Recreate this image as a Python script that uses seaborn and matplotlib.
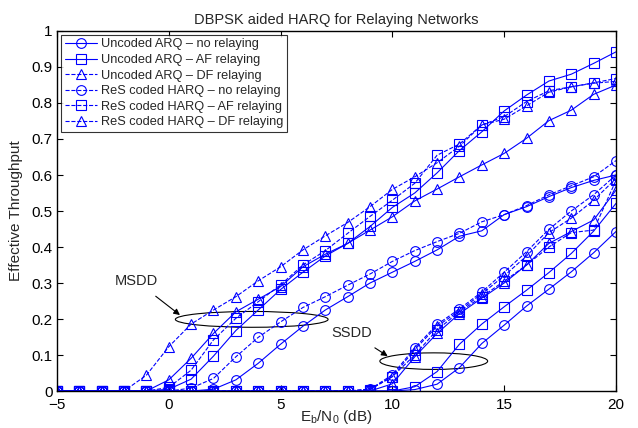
import numpy as np
import pandas as pd
import matplotlib
matplotlib.use("Agg")
import matplotlib.pyplot as plt
from matplotlib.lines import Line2D
from matplotlib.patches import Ellipse
import seaborn as sns

# ---------------- data ----------------
ebn0 = list(range(-5, 21))

# MSDD curves
msdd_unc_norelay = [0, 0, 0, 0, 0, 0, 0, 0.005, 0.031, 0.077, 0.13, 0.18, 0.225, 0.262, 0.30, 0.33,
                    0.36, 0.392, 0.43, 0.445, 0.49, 0.512, 0.54, 0.565, 0.585, 0.60]
msdd_unc_af = [0, 0, 0, 0, 0, 0.005, 0.033, 0.097, 0.168, 0.225, 0.282, 0.33, 0.375, 0.41, 0.457, 0.51,
               0.55, 0.606, 0.668, 0.72, 0.778, 0.822, 0.861, 0.88, 0.91, 0.942]
msdd_unc_df = [0, 0, 0, 0, 0, 0.031, 0.091, 0.16, 0.22, 0.255, 0.29, 0.345, 0.38, 0.41, 0.447, 0.484,
               0.528, 0.561, 0.595, 0.628, 0.66, 0.702, 0.751, 0.78, 0.824, 0.85]
msdd_res_norelay = [0, 0, 0, 0, 0, 0, 0.008, 0.035, 0.095, 0.149, 0.192, 0.232, 0.262, 0.294, 0.325, 0.36,
                    0.39, 0.415, 0.438, 0.47, 0.49, 0.515, 0.545, 0.57, 0.595, 0.64]
msdd_res_af = [0, 0, 0, 0, 0, 0.01, 0.058, 0.142, 0.202, 0.248, 0.295, 0.35, 0.39, 0.438, 0.485, 0.53,
               0.577, 0.655, 0.686, 0.739, 0.762, 0.804, 0.834, 0.845, 0.856, 0.868]
msdd_res_df = [0, 0, 0, 0, 0.044, 0.123, 0.186, 0.225, 0.262, 0.306, 0.345, 0.392, 0.431, 0.468, 0.512, 0.56,
               0.595, 0.634, 0.68, 0.739, 0.755, 0.792, 0.83, 0.845, 0.855, 0.86]

# SSDD curves
ssdd_unc_norelay = [0, 0, 0, 0, 0, 0, 0, 0, 0, 0, 0, 0, 0, 0, 0, 0,
                    0.004, 0.019, 0.065, 0.132, 0.183, 0.236, 0.283, 0.331, 0.384, 0.443]
ssdd_unc_af = [0, 0, 0, 0, 0, 0, 0, 0, 0, 0, 0, 0, 0, 0, 0, 0,
               0.012, 0.054, 0.13, 0.186, 0.234, 0.28, 0.329, 0.382, 0.444, 0.521]
ssdd_unc_df = [0, 0, 0, 0, 0, 0, 0, 0, 0, 0, 0, 0, 0, 0, 0, 0.02,
               0.095, 0.16, 0.215, 0.258, 0.30, 0.35, 0.41, 0.443, 0.475, 0.558]
ssdd_res_norelay = [0, 0, 0, 0, 0, 0, 0, 0, 0, 0, 0, 0, 0, 0, 0.005, 0.045,
                    0.12, 0.185, 0.228, 0.275, 0.33, 0.387, 0.449, 0.50, 0.545, 0.60]
ssdd_res_af = [0, 0, 0, 0, 0, 0, 0, 0, 0, 0, 0, 0, 0, 0, 0.004, 0.04,
               0.10, 0.17, 0.22, 0.262, 0.305, 0.35, 0.40, 0.44, 0.447, 0.585]
ssdd_res_df = [0, 0, 0, 0, 0, 0, 0, 0, 0, 0, 0, 0, 0, 0, 0.005, 0.04,
               0.115, 0.18, 0.223, 0.27, 0.32, 0.375, 0.44, 0.48, 0.53, 0.59]

legend_labels = ["Uncoded ARQ \u2013 no relaying", "Uncoded ARQ \u2013 AF relaying",
                 "Uncoded ARQ \u2013 DF relaying", "ReS coded HARQ \u2013 no relaying",
                 "ReS coded HARQ \u2013 AF relaying", "ReS coded HARQ \u2013 DF relaying"]
xticks = [-5, 0, 5, 10, 15, 20]
yticks = [0, 0.1, 0.2, 0.3, 0.4, 0.5, 0.6, 0.7, 0.8, 0.9, 1]
ytick_labels = ["0", "0.1", "0.2", "0.3", "0.4", "0.5", "0.6", "0.7", "0.8", "0.9", "1"]

# ---------------- style ----------------
sns.set_style("ticks")
plt.rcParams["font.family"] = ["Liberation Sans", "DejaVu Sans"]
plt.rcParams["mathtext.fontset"] = "custom"
plt.rcParams["mathtext.rm"] = "Liberation Sans"
plt.rcParams["mathtext.it"] = "Liberation Sans"

BLUE = (0, 0, 1)
markers = ["o", "s", "^", "o", "s", "^"]
styles = ["-", "-", "-", "--", "--", "--"]
legend_styles = ["-", "-", "--", "--", "--", "--"]

fig = plt.figure(figsize=(6.38, 4.28), dpi=100)
ax = fig.add_axes([0.0893, 0.0864, 0.8762, 0.8412])

groups = [
    [msdd_unc_norelay, msdd_unc_af, msdd_unc_df, msdd_res_norelay, msdd_res_af, msdd_res_df],
    [ssdd_unc_norelay, ssdd_unc_af, ssdd_unc_df, ssdd_res_norelay, ssdd_res_af, ssdd_res_df],
]
for grp in groups:
    for i, ys in enumerate(grp):
        df = pd.DataFrame({"x": ebn0, "y": ys})
        sns.lineplot(data=df, x="x", y="y", ax=ax, color=BLUE, linestyle=styles[i],
                     marker=markers[i], markersize=7, markerfacecolor="none",
                     markeredgecolor=BLUE, markeredgewidth=0.8, linewidth=0.8,
                     dashes=False, legend=False, errorbar=None)

ax.set_xlim(-5, 20)
ax.set_ylim(0, 1)
ax.set_xticks(xticks)
ax.set_yticks(yticks)
ax.set_yticklabels(ytick_labels)
ax.tick_params(direction="in", top=True, right=True, length=4, width=0.8,
               labelsize=11, colors="black")
ax.tick_params(axis="x", pad=5)
ax.tick_params(axis="y", pad=3)
for sp in ax.spines.values():
    sp.set_linewidth(1.0)
    sp.set_color("black")

ax.set_title("DBPSK aided HARQ for Relaying Networks", fontsize=10.5, pad=5)
ax.set_xlabel("E$_\\mathregular{b}$/N$_\\mathregular{0}$ (dB)", fontsize=11)
ax.xaxis.set_label_coords(0.5, -0.047)
ax.set_ylabel("Effective Throughput", fontsize=11)
ax.yaxis.set_label_coords(-0.06, 0.5)

handles = [Line2D([0], [0], color=BLUE, linestyle=legend_styles[i], marker=markers[i],
                  markersize=7, markerfacecolor="none", markeredgecolor=BLUE,
                  markeredgewidth=0.8, linewidth=0.8) for i in range(6)]
leg = ax.legend(handles, legend_labels, loc="upper left", bbox_to_anchor=(0.008, 0.99),
                borderaxespad=0, fontsize=9.2, frameon=True, fancybox=False,
                edgecolor="black", handlelength=2.5, handletextpad=0.3,
                labelspacing=0.28, borderpad=0.3)
leg.get_frame().set_linewidth(0.8)

# annotations
ax.add_patch(Ellipse((3.71, 0.199), 6.83, 0.044, fill=False, edgecolor="black", linewidth=0.8))
ax.add_patch(Ellipse((11.85, 0.083), 4.82, 0.046, fill=False, edgecolor="black", linewidth=0.8))
ax.annotate("MSDD", xy=(0.5, 0.211), xytext=(-1.47, 0.306), fontsize=10.5, ha="center", va="center",
            arrowprops=dict(arrowstyle="-|>", color="black", lw=0.8, shrinkA=6, shrinkB=0,
                            mutation_scale=9))
ax.annotate("SSDD", xy=(9.79, 0.097), xytext=(8.19, 0.161), fontsize=10.5, ha="center", va="center",
            arrowprops=dict(arrowstyle="-|>", color="black", lw=0.8, shrinkA=6, shrinkB=0,
                            mutation_scale=9))

fig.savefig("out.png", dpi=100)
